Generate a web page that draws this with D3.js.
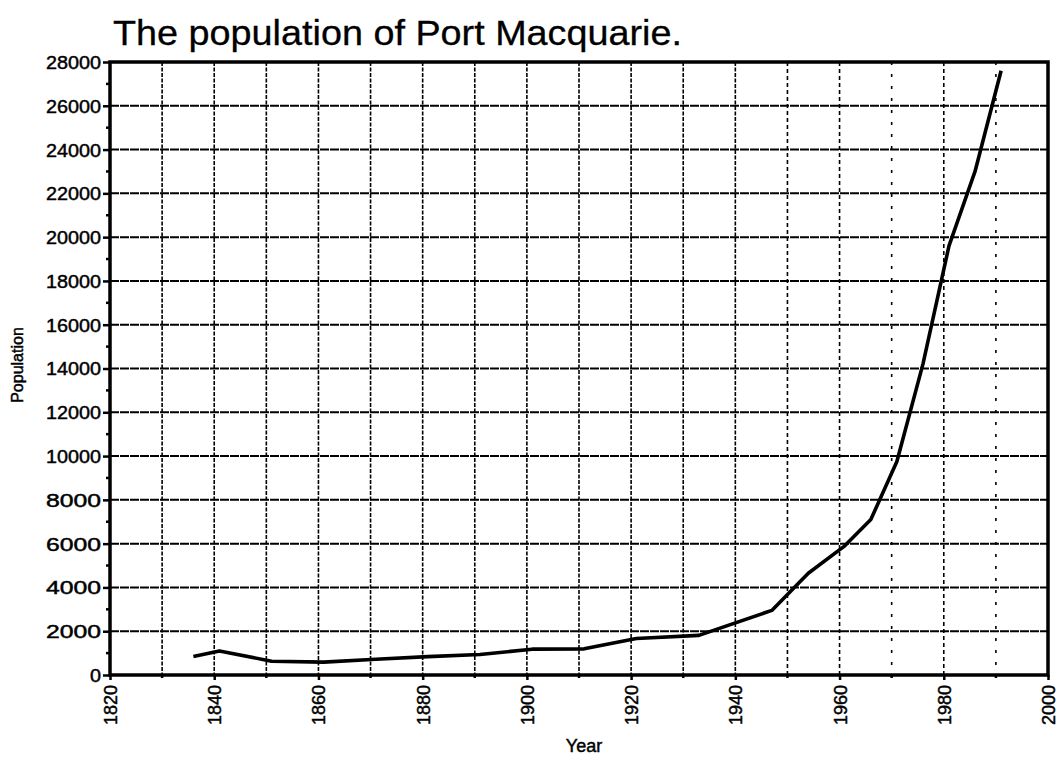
<!DOCTYPE html>
<html>
<head>
<meta charset="utf-8">
<script src="https://cdn.jsdelivr.net/npm/d3@7"></script>
<style>
  body { margin: 0; background: #fff; }
  text { font-family: "Liberation Sans", Arial, Helvetica, sans-serif; fill: #000; stroke: #000; stroke-width: 0.45px; }
</style>
</head>
<body>
<svg id="chart" width="1059" height="760"></svg>
<script>
// ---- data ----
const years = [1836, 1841, 1851, 1861, 1871, 1881, 1891, 1901, 1911, 1921, 1933, 1947, 1954, 1961, 1966, 1971, 1976, 1981, 1986, 1991];
const population = [850, 1100, 630, 590, 720, 840, 935, 1180, 1195, 1670, 1810, 2950, 4650, 5900, 7100, 9750, 14200, 19600, 23000, 27600];
const yTicks = [0, 2000, 4000, 6000, 8000, 10000, 12000, 14000, 16000, 18000, 20000, 22000, 24000, 26000, 28000];
const yMinorTicks = [1000, 3000, 5000, 7000, 9000, 11000, 13000, 15000, 17000, 19000, 21000, 23000, 25000, 27000];
const xTicks = [1820, 1840, 1860, 1880, 1900, 1920, 1940, 1960, 1980, 2000];
const xGrid = [1830, 1840, 1850, 1860, 1870, 1880, 1890, 1900, 1910, 1920, 1930, 1940, 1950, 1960, 1970, 1980, 1990];
const titleText = "The population of Port Macquarie.";
const xLabel = "Year";
const yLabel = "Population";

// ---- layout ----
const svg = d3.select("#chart");
const L = 110, R = 1048, T = 62, B = 675;
const x = d3.scaleLinear().domain([1820, 2000]).range([L, R]);
const y = d3.scaleLinear().domain([0, 28000]).range([B, T]);

// gridlines horizontal
svg.append("g").selectAll("line").data(yTicks.slice(1, -1)).join("line")
  .attr("x1", L).attr("x2", R)
  .attr("y1", d => y(d)).attr("y2", d => y(d))
  .attr("stroke", "#000").attr("stroke-width", 2)
  .attr("stroke-dasharray", "9,1");

// gridlines vertical (dotted, sparser toward the right)
svg.append("g").selectAll("line").data(xGrid).join("line")
  .attr("x1", d => x(d)).attr("x2", d => x(d))
  .attr("y1", T).attr("y2", B)
  .attr("stroke", "#000").attr("stroke-width", 1.6)
  .attr("stroke-dasharray", d => d >= 1970 && d % 20 === 10 ? "3,9" : (d >= 1950 ? "4,3" : "4,1.5"));

// frame
svg.append("rect").attr("x", L).attr("y", T).attr("width", R - L).attr("height", B - T)
  .attr("fill", "none").attr("stroke", "#000").attr("stroke-width", 3.5);

// y axis
const yAxis = d3.axisLeft(y).tickValues(yTicks).tickSize(7).tickPadding(2).tickFormat(d3.format("d"));
const gy = svg.append("g").attr("transform", `translate(${L},0)`).call(yAxis);
gy.select(".domain").remove();
gy.selectAll(".tick line").attr("stroke", "#000").attr("stroke-width", 2.5);
gy.selectAll(".tick text")
  .attr("font-size", 18).attr("font-family", "Liberation Sans, Arial, sans-serif")
  .attr("textLength", 55).attr("lengthAdjust", "spacingAndGlyphs")
  .attr("dy", "0.36em");
gy.selectAll(".tick text").filter(d => d === 0).attr("textLength", 11);

svg.append("g").selectAll("line").data(yMinorTicks).join("line")
  .attr("x1", L - 4).attr("x2", L)
  .attr("y1", d => y(d)).attr("y2", d => y(d))
  .attr("stroke", "#000").attr("stroke-width", 2.5);

// x axis
const xAxis = d3.axisBottom(x).tickValues(xTicks).tickSize(5).tickFormat(d3.format("d"));
const gx = svg.append("g").attr("transform", `translate(0,${B})`).call(xAxis);
gx.select(".domain").remove();
gx.selectAll(".tick line").attr("stroke", "#000").attr("stroke-width", 2.5);
gx.selectAll(".tick text")
  .attr("font-size", 18).attr("font-family", "Liberation Sans, Arial, sans-serif")
  .attr("transform", "rotate(-90)")
  .attr("text-anchor", "end")
  .attr("x", -10).attr("y", 0).attr("dy", "0.36em");

svg.append("g").selectAll("line").data(xGrid.filter(d => d % 20 === 10)).join("line")
  .attr("x1", d => x(d)).attr("x2", d => x(d))
  .attr("y1", B).attr("y2", B + 3)
  .attr("stroke", "#000").attr("stroke-width", 2.5);

// line
const pts = years.map((yr, i) => [yr, population[i]]);
svg.append("path").datum(pts)
  .attr("fill", "none").attr("stroke", "#000").attr("stroke-width", 3.6)
  .attr("stroke-linejoin", "round")
  .attr("d", d3.line().x(d => x(d[0])).y(d => y(d[1])));

// title
svg.append("text").attr("x", 113).attr("y", 45)
  .attr("font-size", 35).attr("textLength", 569).attr("lengthAdjust", "spacingAndGlyphs")
  .style("stroke-width", "0.3px")
  .text(titleText);

// axis labels
svg.append("text").attr("x", 584).attr("y", 752).attr("text-anchor", "middle")
  .attr("font-size", 18).text(xLabel);
svg.append("text").attr("transform", "translate(23,365) rotate(-90)")
  .attr("text-anchor", "middle").attr("font-size", 16).text(yLabel);
</script>
</body>
</html>
